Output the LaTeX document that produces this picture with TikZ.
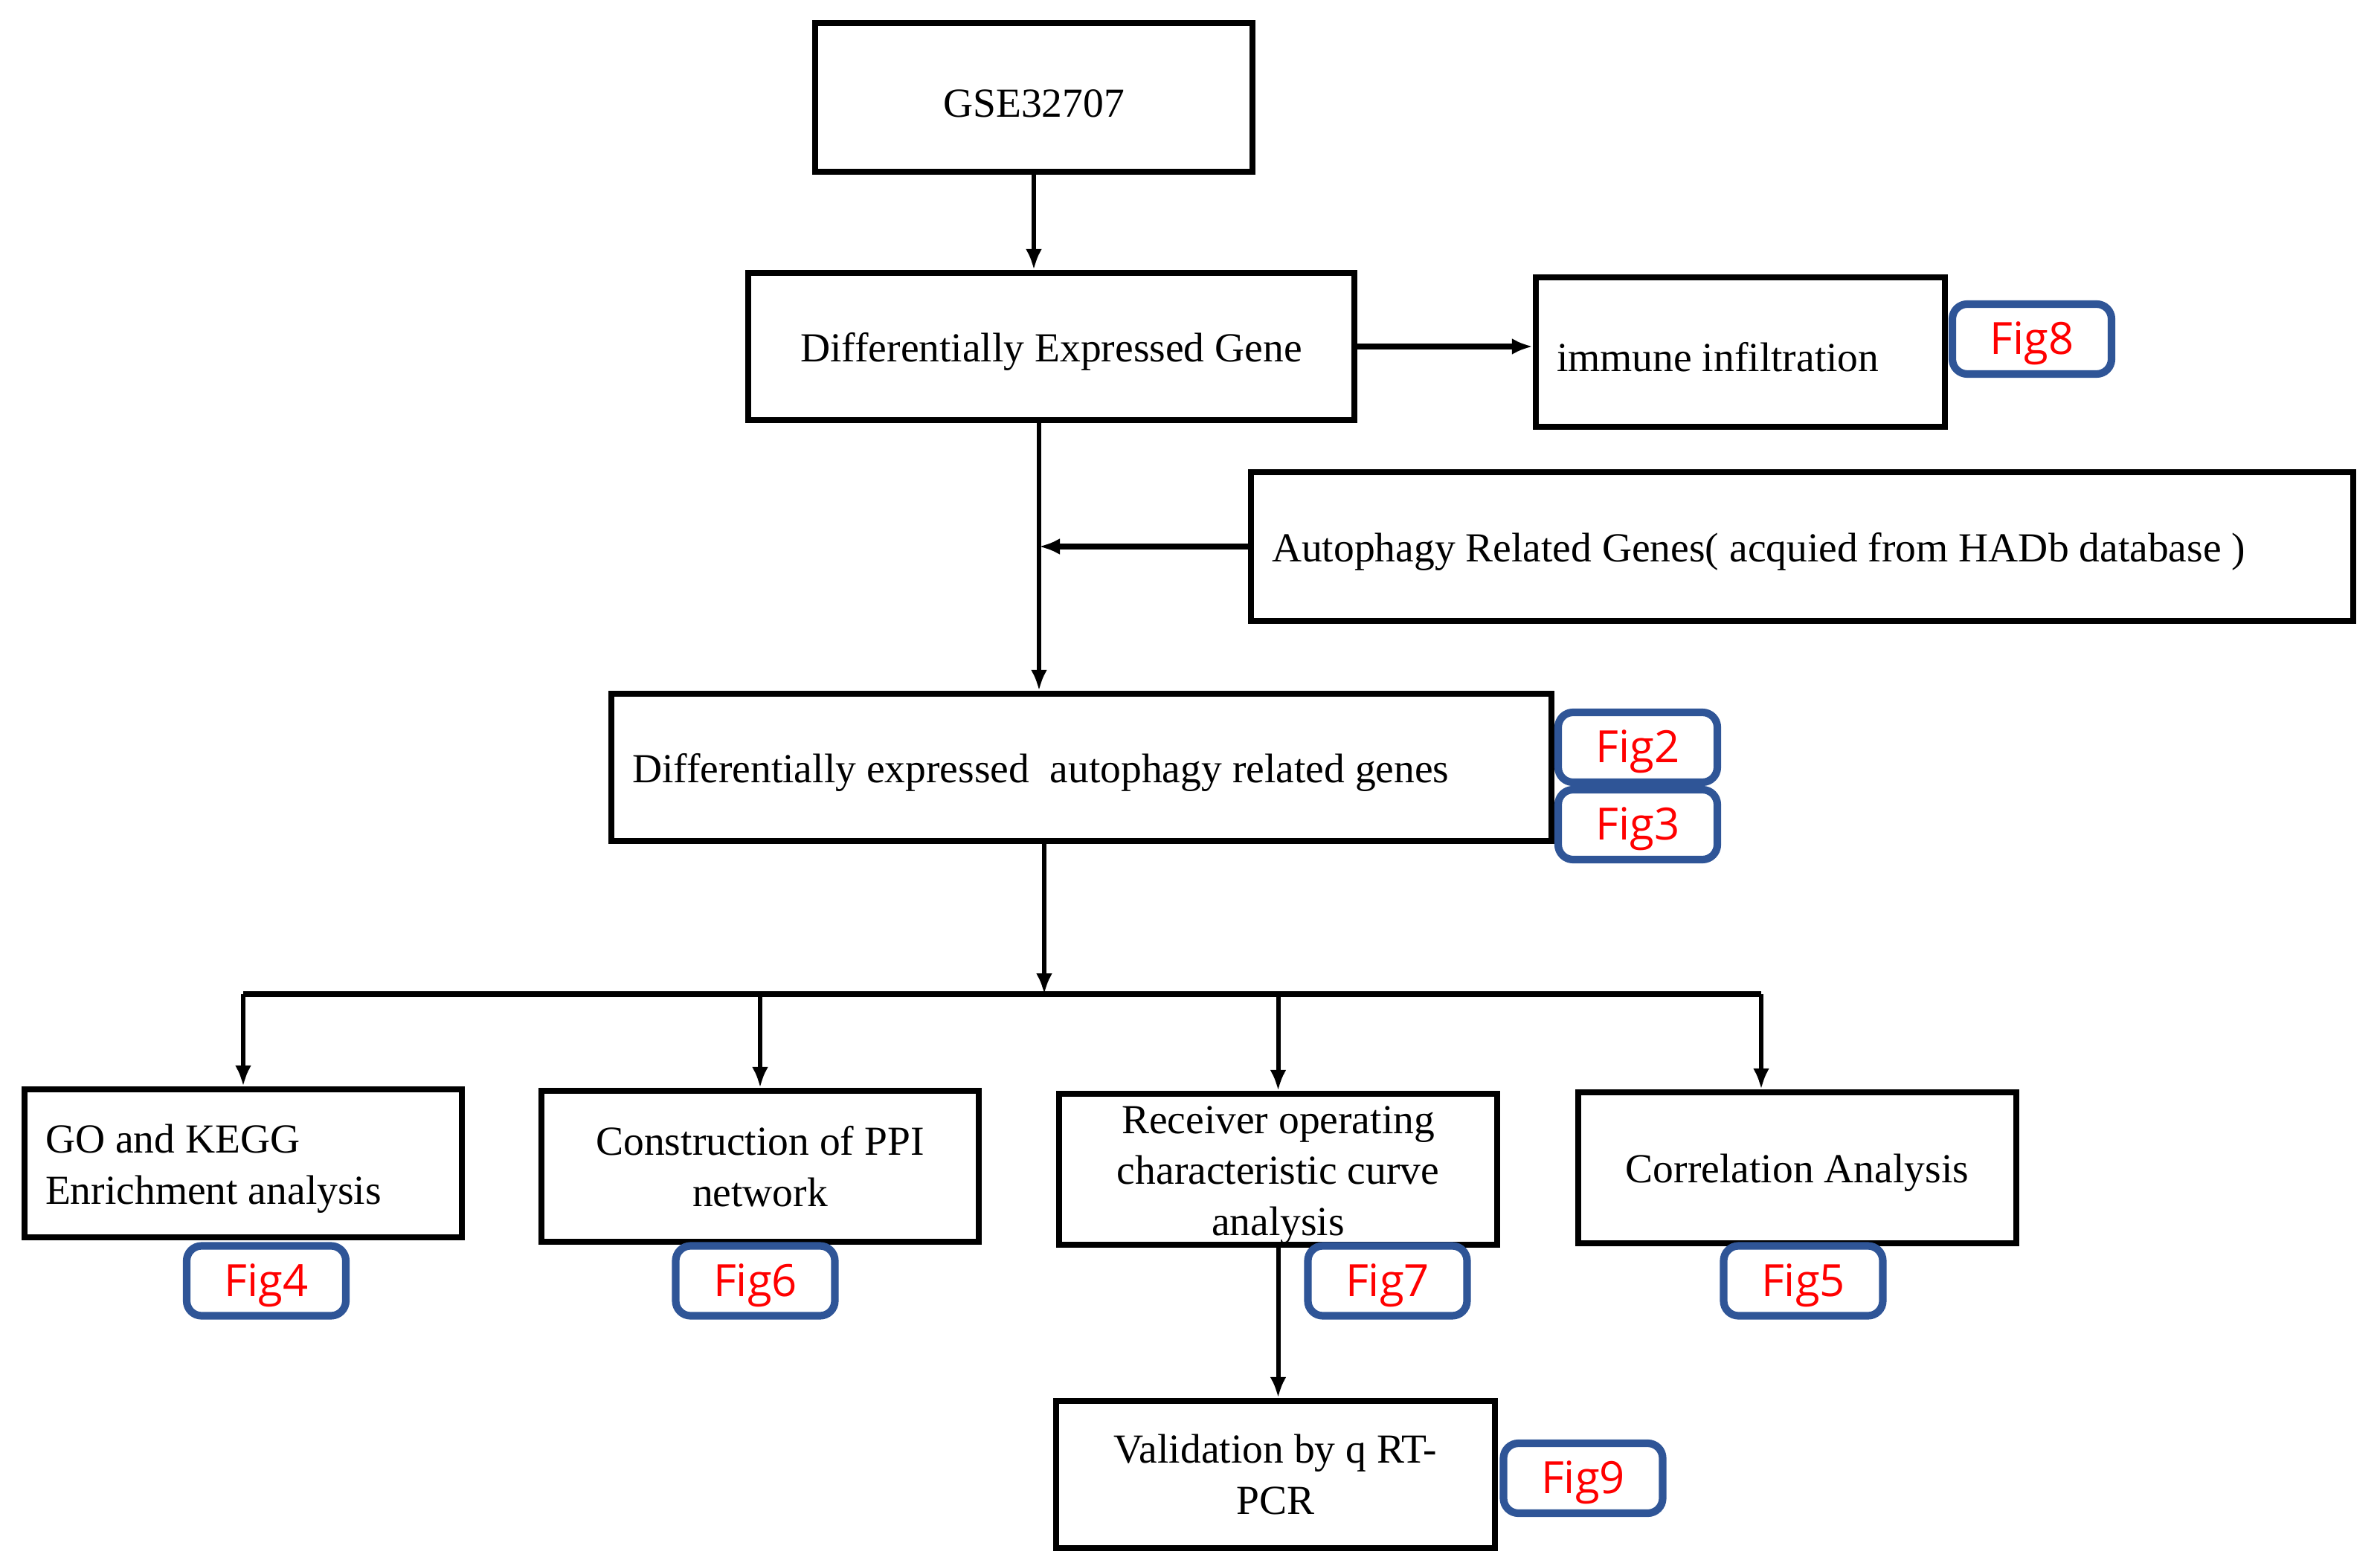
\documentclass[tikz,border=0pt]{standalone}
\usepackage{fontspec}
\setmainfont{Liberation Serif}
\newfontfamily\figfont{Open Sans}
\usepackage{tikz}
\usetikzlibrary{arrows.meta}
\definecolor{tagblue}{RGB}{47,85,151}

\begin{document}
\begin{tikzpicture}[
      box/.style={draw, line width=2.4pt, inner sep=0pt, align=center,
        font=\fontsize{15.8}{19.5}\selectfont},
      onebox/.style={box, text height=15pt},
      leftbox/.style={onebox, align=flush left, inner xsep=0.28cm},
      tag/.style={draw=tagblue, line width=2.9pt, rounded corners=0.2cm, fill=white,
        text=red, font=\figfont\fontsize{17}{20}\selectfont, text height=16pt,
        minimum width=2.14cm, minimum height=0.94cm, inner sep=0pt},
      arr/.style={line width=1.7pt, -{Latex[length=0.28cm,width=0.22cm]}},
      harr/.style={arr, line width=2.2pt}
    ]
      \useasboundingbox (0,0) rectangle (32,-21.02);
      \node[onebox, minimum width=5.88cm, minimum height=2.00cm] (gse) at (13.90,-1.31) {GSE32707};
      \node[onebox, minimum width=8.15cm, minimum height=1.98cm] (deg) at (14.135,-4.66) {Differentially Expressed Gene};
      \node[leftbox, text width=4.94cm, minimum height=2.01cm] (imm) at (23.40,-4.735) {immune infiltration};
      \node[leftbox, text width=14.26cm, minimum height=2.00cm] (auto) at (24.23,-7.35) {Autophagy Related Genes( acquied from HADb database )};
      \node[leftbox, text width=12.08cm, minimum height=1.98cm] (dear) at (14.54,-10.32) {Differentially expressed\ \ autophagy related genes};
      \node[leftbox, text width=5.32cm, minimum height=1.99cm] (go) at (3.27,-15.645) {GO and KEGG\\Enrichment analysis};
      \node[box, minimum width=5.88cm, minimum height=2.03cm] (ppi) at (10.22,-15.685) {Construction of PPI\\network};
      \node[onebox, align=flush center, text width=5.89cm, minimum height=2.03cm] (roc) at (17.185,-15.725) {Receiver operating\\characteristic curve\\analysis};
      \node[onebox, minimum width=5.89cm, minimum height=2.03cm] (corr) at (24.165,-15.705) {Correlation Analysis};
      \node[box, minimum width=5.90cm, minimum height=1.98cm] (val) at (17.15,-19.83) {Validation by q RT-\\PCR};

      \coordinate (trunk) at (13.97,-7.35);
      \coordinate (split) at (14.04,-13.37);
      \coordinate (rightend) at (23.68,-13.37);

      \draw[arr] (gse.south) -- (gse.south |- deg.north);
      \draw[harr] (deg.east) -- (deg.east -| imm.west);
      \draw[arr] (deg.south -| trunk) -- (dear.north -| trunk);
      \draw[harr] (auto.west) -- (trunk);
      \draw[arr] (dear.south -| split) -- (split);
      \draw[line width=2.4pt] (split -| go.north) -- (rightend);
      \foreach \n in {go,ppi,roc}
        \draw[arr] (split -| \n.north) -- (\n.north);
      \draw[arr] (rightend) -- (rightend |- corr.north);
      \draw[arr] (roc.south) -- (roc.south |- val.north);

      \node[tag] (fig8) at (27.32,-4.56) {Fig8};
      \node[tag] (fig2) at (22.02,-10.05) {Fig2};
      \node[tag] (fig3) at (22.02,-11.09) {Fig3};
      \node[tag] (fig4) at (3.58,-17.225) {Fig4};
      \node[tag] (fig6) at (10.155,-17.225) {Fig6};
      \node[tag] (fig7) at (18.655,-17.225) {Fig7};
      \node[tag] (fig5) at (24.245,-17.225) {Fig5};
      \node[tag] (fig9) at (21.285,-19.88) {Fig9};
    \end{tikzpicture}
\end{document}
